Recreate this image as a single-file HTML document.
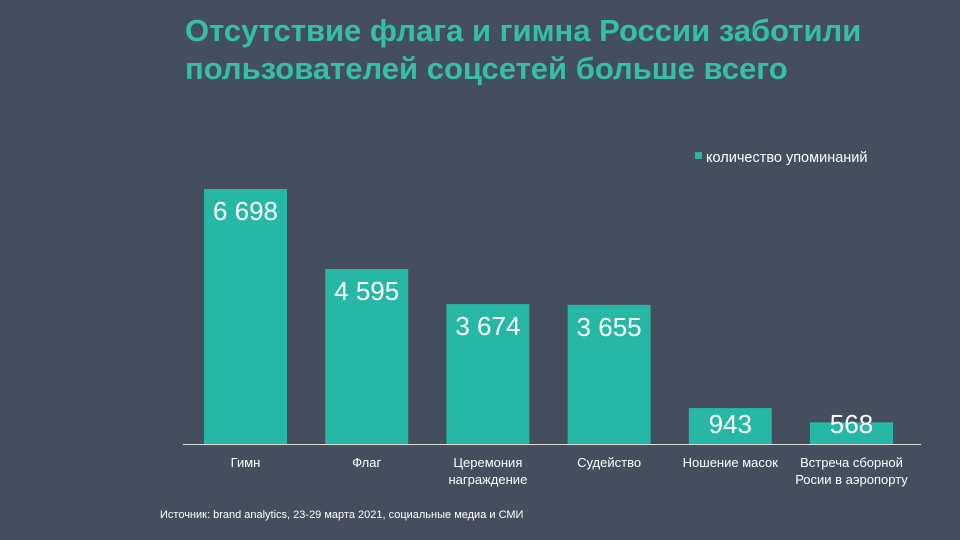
<!DOCTYPE html>
<html><head><meta charset="utf-8"><style>
body{margin:0;width:960px;height:540px;background:#444e5d;overflow:hidden;font-family:"Liberation Sans",sans-serif;position:relative}
.t{position:absolute;left:185px;top:12px;color:#35bfa8;font-weight:bold;font-size:31px;line-height:38px}
.src{position:absolute;left:160px;top:509px;color:#fff;font-size:11px}
</style></head><body>
<div class="t">Отсутствие флага и гимна России заботили<br>пользователей соцсетей больше всего</div>
<svg id="c" width="960" height="540" style="position:absolute;left:0;top:0"></svg>
<div class="src">Источник: brand analytics, 23-29 марта 2021, социальные медиа и СМИ</div>
<script>
const categories=[["Гимн"],["Флаг"],["Церемония","награждение"],["Судейство"],["Ношение масок"],["Встреча сборной","Росии в аэропорту"]];
const values=[6698,4595,3674,3655,943,568];
const labels=["6 698","4 595","3 674","3 655","943","568"];
const svg=document.getElementById('c');const NS="http://www.w3.org/2000/svg";
const base=444,scale=255/6698;
const x=i=>204+i*121.2, y=v=>base-v*scale;
function mk(t,a){const e=document.createElementNS(NS,t);for(const k in a)e.setAttribute(k,a[k]);svg.appendChild(e);return e;}
values.forEach((v,i)=>{
 const r=mk('rect',{x:x(i),y:y(v),width:83,height:base-y(v),fill:'#27b8a5'});
 
 
 const tx=mk('text',{x:x(i)+41.5,y:Math.min(y(v)+31,433),'text-anchor':'middle',fill:'#fff','font-size':'26'});
 tx.textContent=labels[i];
 
 
 categories[i].forEach((l,j)=>{
  const c=mk('text',{x:x(i)+41.5,y:467+j*17,'text-anchor':'middle',fill:'#fff','font-size':'13'});
  c.textContent=l;
  
  
 });
});
const ax=mk('line',{x1:183,x2:921,y1:base+0.5,y2:base+0.5,stroke:'#ddd','stroke-width':1});


const lg=mk('rect',{x:695,y:152,width:7,height:7,fill:'#27b8a5'});


const lt=mk('text',{x:706,y:162,fill:'#fff','font-size':'14.5'});
lt.textContent='количество упоминаний';


</script>
</body></html>
